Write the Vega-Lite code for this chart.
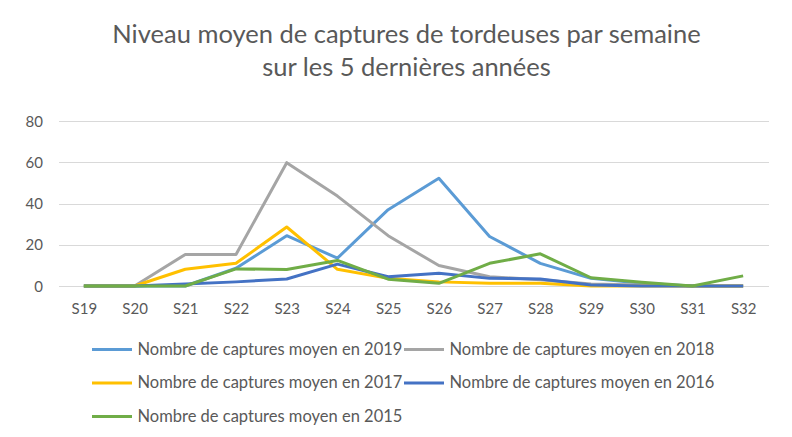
{
  "$schema": "https://vega.github.io/schema/vega-lite/v6.json",
  "width": 710,
  "height": 165,
  "autosize": {"type": "none"},
  "padding": {"left": 58.5, "top": 121, "right": 23.5, "bottom": 151},
  "background": "white",
  "title": {
    "text": ["Niveau moyen de captures de tordeuses par semaine", "sur les 5 dernières années"],
    "font": "Lato",
    "fontSize": 25.5,
    "fontWeight": "normal",
    "color": "#595959",
    "anchor": "middle",
    "offset": 33,
    "lineHeight": 33,
    "dx": -7
  },
  "config": {
    "view": {"stroke": null},
    "font": "Lato",
    "axis": {"labelFont": "Lato", "labelColor": "#595959", "labelFontSize": 15},
    "legend": {"labelFont": "Lato", "labelColor": "#595959", "labelFontSize": 16.5}
  },
  "data": {
    "values": [
      {"s": "Nombre de captures moyen en 2019", "w": "S19", "v": 0},
      {"s": "Nombre de captures moyen en 2019", "w": "S20", "v": 0},
      {"s": "Nombre de captures moyen en 2019", "w": "S21", "v": 0},
      {"s": "Nombre de captures moyen en 2019", "w": "S22", "v": 8.6},
      {"s": "Nombre de captures moyen en 2019", "w": "S23", "v": 24.4},
      {"s": "Nombre de captures moyen en 2019", "w": "S24", "v": 13.5},
      {"s": "Nombre de captures moyen en 2019", "w": "S25", "v": 37},
      {"s": "Nombre de captures moyen en 2019", "w": "S26", "v": 52.2},
      {"s": "Nombre de captures moyen en 2019", "w": "S27", "v": 24},
      {"s": "Nombre de captures moyen en 2019", "w": "S28", "v": 11},
      {"s": "Nombre de captures moyen en 2019", "w": "S29", "v": 3.7},
      {"s": "Nombre de captures moyen en 2019", "w": "S30", "v": 1.3},
      {"s": "Nombre de captures moyen en 2019", "w": "S31", "v": 0},
      {"s": "Nombre de captures moyen en 2019", "w": "S32", "v": 0},
      {"s": "Nombre de captures moyen en 2018", "w": "S19", "v": 0},
      {"s": "Nombre de captures moyen en 2018", "w": "S20", "v": 0},
      {"s": "Nombre de captures moyen en 2018", "w": "S21", "v": 15.3},
      {"s": "Nombre de captures moyen en 2018", "w": "S22", "v": 15.3},
      {"s": "Nombre de captures moyen en 2018", "w": "S23", "v": 59.8},
      {"s": "Nombre de captures moyen en 2018", "w": "S24", "v": 43.6},
      {"s": "Nombre de captures moyen en 2018", "w": "S25", "v": 24.4},
      {"s": "Nombre de captures moyen en 2018", "w": "S26", "v": 9.9},
      {"s": "Nombre de captures moyen en 2018", "w": "S27", "v": 4.5},
      {"s": "Nombre de captures moyen en 2018", "w": "S28", "v": 3},
      {"s": "Nombre de captures moyen en 2018", "w": "S29", "v": 1},
      {"s": "Nombre de captures moyen en 2018", "w": "S30", "v": 0.5},
      {"s": "Nombre de captures moyen en 2018", "w": "S31", "v": 0},
      {"s": "Nombre de captures moyen en 2018", "w": "S32", "v": 0},
      {"s": "Nombre de captures moyen en 2017", "w": "S19", "v": 0},
      {"s": "Nombre de captures moyen en 2017", "w": "S20", "v": 0},
      {"s": "Nombre de captures moyen en 2017", "w": "S21", "v": 8.1},
      {"s": "Nombre de captures moyen en 2017", "w": "S22", "v": 11},
      {"s": "Nombre de captures moyen en 2017", "w": "S23", "v": 28.6},
      {"s": "Nombre de captures moyen en 2017", "w": "S24", "v": 8.1},
      {"s": "Nombre de captures moyen en 2017", "w": "S25", "v": 3.7},
      {"s": "Nombre de captures moyen en 2017", "w": "S26", "v": 2},
      {"s": "Nombre de captures moyen en 2017", "w": "S27", "v": 1.3},
      {"s": "Nombre de captures moyen en 2017", "w": "S28", "v": 1.3},
      {"s": "Nombre de captures moyen en 2017", "w": "S29", "v": 0},
      {"s": "Nombre de captures moyen en 2017", "w": "S30", "v": 0},
      {"s": "Nombre de captures moyen en 2017", "w": "S31", "v": 0},
      {"s": "Nombre de captures moyen en 2017", "w": "S32", "v": 0},
      {"s": "Nombre de captures moyen en 2016", "w": "S19", "v": 0},
      {"s": "Nombre de captures moyen en 2016", "w": "S20", "v": 0},
      {"s": "Nombre de captures moyen en 2016", "w": "S21", "v": 1},
      {"s": "Nombre de captures moyen en 2016", "w": "S22", "v": 2},
      {"s": "Nombre de captures moyen en 2016", "w": "S23", "v": 3.4},
      {"s": "Nombre de captures moyen en 2016", "w": "S24", "v": 10.6},
      {"s": "Nombre de captures moyen en 2016", "w": "S25", "v": 4.5},
      {"s": "Nombre de captures moyen en 2016", "w": "S26", "v": 6.2},
      {"s": "Nombre de captures moyen en 2016", "w": "S27", "v": 3.7},
      {"s": "Nombre de captures moyen en 2016", "w": "S28", "v": 3.4},
      {"s": "Nombre de captures moyen en 2016", "w": "S29", "v": 0.5},
      {"s": "Nombre de captures moyen en 2016", "w": "S30", "v": 0},
      {"s": "Nombre de captures moyen en 2016", "w": "S31", "v": 0},
      {"s": "Nombre de captures moyen en 2016", "w": "S32", "v": 0},
      {"s": "Nombre de captures moyen en 2015", "w": "S19", "v": 0},
      {"s": "Nombre de captures moyen en 2015", "w": "S20", "v": 0},
      {"s": "Nombre de captures moyen en 2015", "w": "S21", "v": 0},
      {"s": "Nombre de captures moyen en 2015", "w": "S22", "v": 8.3},
      {"s": "Nombre de captures moyen en 2015", "w": "S23", "v": 8},
      {"s": "Nombre de captures moyen en 2015", "w": "S24", "v": 12.4},
      {"s": "Nombre de captures moyen en 2015", "w": "S25", "v": 3.3},
      {"s": "Nombre de captures moyen en 2015", "w": "S26", "v": 1.3},
      {"s": "Nombre de captures moyen en 2015", "w": "S27", "v": 11},
      {"s": "Nombre de captures moyen en 2015", "w": "S28", "v": 15.6},
      {"s": "Nombre de captures moyen en 2015", "w": "S29", "v": 4},
      {"s": "Nombre de captures moyen en 2015", "w": "S30", "v": 1.8},
      {"s": "Nombre de captures moyen en 2015", "w": "S31", "v": 0},
      {"s": "Nombre de captures moyen en 2015", "w": "S32", "v": 4.9}
    ]
  },
  "mark": {"type": "line", "strokeWidth": 3, "strokeJoin": "round", "strokeCap": "butt"},
  "encoding": {
    "x": {
      "field": "w",
      "type": "ordinal",
      "scale": {"type": "point", "padding": 0.5},
      "axis": {
        "title": null,
        "labelAngle": 0,
        "ticks": false,
        "domain": true,
        "domainColor": "#D9D9D9",
        "labelPadding": 15,
        "grid": false
      }
    },
    "y": {
      "field": "v",
      "type": "quantitative",
      "scale": {"domain": [0, 80], "nice": false},
      "axis": {
        "title": null,
        "values": [0, 20, 40, 60, 80],
        "ticks": false,
        "domain": false,
        "labelPadding": 16,
        "grid": true,
        "gridColor": "#D9D9D9",
        "gridWidth": 1
      }
    },
    "color": {
      "field": "s",
      "type": "nominal",
      "sort": null,
      "scale": {
        "domain": [
          "Nombre de captures moyen en 2019",
          "Nombre de captures moyen en 2018",
          "Nombre de captures moyen en 2017",
          "Nombre de captures moyen en 2016",
          "Nombre de captures moyen en 2015"
        ],
        "range": ["#5B9BD5", "#A5A5A5", "#FFC000", "#4472C4", "#70AD47"]
      },
      "legend": {
        "title": null,
        "orient": "none",
        "legendX": 32,
        "legendY": 207,
        "columns": 2,
        "direction": "horizontal",
        "symbolType": "stroke",
        "symbolSize": 1600,
        "symbolStrokeWidth": 3,
        "labelOffset": 4,
        "labelLimit": 400,
        "columnPadding": -10,
        "rowPadding": 3.5,
        "gridAlign": "each"
      }
    }
  }
}
